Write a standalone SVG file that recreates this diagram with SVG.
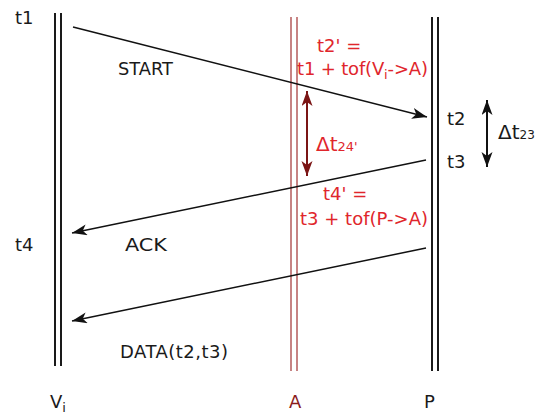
<svg xmlns="http://www.w3.org/2000/svg" width="536" height="414" viewBox="0 0 536 414">
<style>
text{font-family:"DejaVu Sans","Liberation Sans",sans-serif;font-size:18px;fill:#1a1a1a}
.red{fill:#e0262c}
.dred{fill:#8b1c1c}
.life{stroke:#1a1a1a;stroke-width:2;fill:none}
.lifeA{stroke:#b55a5a;stroke-width:1.5;fill:none}
.msg{stroke:#111;stroke-width:1.5;fill:none;marker-end:url(#ah)}
.sub{font-size:13px}
.big{font-size:20px}
</style>
<defs>
<marker id="ah" markerUnits="userSpaceOnUse" markerWidth="18" markerHeight="12" refX="15" refY="5.5" orient="auto">
<path d="M0,0 L15,5.5 L0,11 L4,5.5 z" fill="#111"/>
</marker>
<marker id="ahd" markerUnits="userSpaceOnUse" markerWidth="18" markerHeight="12" refX="15" refY="5.5" orient="auto-start-reverse">
<path d="M0,0 L15,5.5 L0,11 L4,5.5 z" fill="#7b1515"/>
</marker>
<marker id="ahb" markerUnits="userSpaceOnUse" markerWidth="18" markerHeight="12" refX="15" refY="5.5" orient="auto-start-reverse">
<path d="M0,0 L15,5.5 L0,11 L4,5.5 z" fill="#111"/>
</marker>
</defs>
<g id="Vi">
<line class="life" x1="55" y1="13" x2="55" y2="366"/>
<line class="life" x1="61" y1="13" x2="61" y2="366"/>
<text x="50" y="408">V<tspan class="sub" dy="4">i</tspan></text>
<text x="15" y="24">t1</text>
<text x="15" y="251">t4</text>
</g>
<g id="A">
<line class="lifeA" x1="291" y1="17" x2="291" y2="371"/>
<line class="lifeA" x1="297" y1="17" x2="297" y2="371"/>
<text class="dred" x="289" y="408">A</text>
</g>
<g id="P">
<line class="life" x1="432" y1="17" x2="432" y2="371"/>
<line class="life" x1="438" y1="17" x2="438" y2="371"/>
<text x="424" y="408">P</text>
<text x="447" y="125">t2</text>
<text x="447" y="168">t3</text>
</g>
<g id="connectors">
<line class="msg" x1="73" y1="27" x2="427" y2="117"/>
<line class="msg" x1="426" y1="160" x2="72" y2="233"/>
<line class="msg" x1="426" y1="248" x2="72" y2="321"/>
<line x1="307" y1="91" x2="307" y2="176" stroke="#7b1515" stroke-width="2" marker-start="url(#ahd)" marker-end="url(#ahd)"/>
<line x1="487" y1="100" x2="487" y2="167" stroke="#111" stroke-width="2" marker-start="url(#ahb)" marker-end="url(#ahb)"/>
</g>
<g id="labels">
<text x="118" y="75" textLength="55" lengthAdjust="spacingAndGlyphs">START</text>
<text x="125" y="251" textLength="42" lengthAdjust="spacingAndGlyphs">ACK</text>
<text x="120" y="358" textLength="108">DATA(t2,t3)</text>
<text class="red" x="317" y="52">t2' =</text>
<text class="red" x="297" y="75" textLength="131">t1 + tof(V<tspan class="sub" dy="4">i</tspan><tspan dy="-4">-&gt;A)</tspan></text>
<text class="red" x="316" y="151"><tspan class="big">Δt</tspan><tspan class="sub">24'</tspan></text>
<text class="red" x="323" y="200">t4' =</text>
<text class="red" x="300" y="225" textLength="128">t3 + tof(P-&gt;A)</text>
<text x="498" y="139"><tspan class="big">Δt</tspan><tspan style="font-size:12px">23</tspan></text>
</g>
</svg>
